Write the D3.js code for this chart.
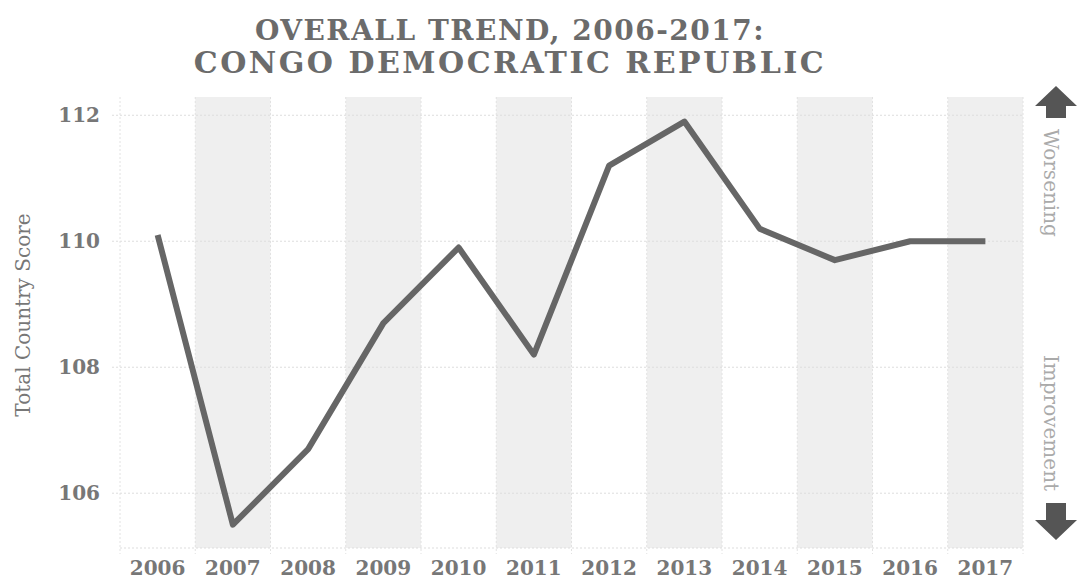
<!DOCTYPE html>
<html>
<head>
<meta charset="utf-8">
<script src="https://cdn.jsdelivr.net/npm/d3@7"></script>
<style>
  body { margin: 0; background: #fff; }
  text { font-family: "DejaVu Serif", serif; }
</style>
</head>
<body>
<div id="chart"></div>
<script>
// data
const years = ["2006","2007","2008","2009","2010","2011","2012","2013","2014","2015","2016","2017"];
const scores = [110.1, 105.5, 106.7, 108.7, 109.9, 108.2, 111.2, 111.9, 110.2, 109.7, 110.0, 110.0];
const yTicks = [106, 108, 110, 112];
const titleLines = ["OVERALL TREND, 2006-2017:", "CONGO DEMOCRATIC REPUBLIC"];

var margin = { top: 97, right: 54, bottom: 32, left: 120 },
    width = 1077 - margin.left - margin.right,
    height = 580 - margin.top - margin.bottom;

const svg = d3.select("#chart")
  .append("svg")
    .attr("width", 1077)
    .attr("height", 580);

const g = svg.append("g")
    .attr("transform", `translate(${margin.left}, ${margin.top})`);

// title (second line is set a bit larger, like the original)
svg.selectAll(".title")
  .data(titleLines)
  .join("text")
    .attr("x", 510)
    .attr("y", (d, i) => i === 0 ? 40 : 73)
    .attr("text-anchor", "middle")
    .style("font-weight", "bold")
    .style("font-size", (d, i) => i === 0 ? "28px" : "30px")
    .style("letter-spacing", (d, i) => i === 0 ? "1.5px" : "2.5px")
    .style("fill", "#6b6b6b")
    .text(d => d);

const x = d3.scaleBand()
  .domain(years)
  .range([0, width]);

const y = d3.scaleLinear()
  .domain([105.13, 112.29])
  .range([height, 0]);

// shaded bands on odd years
g.selectAll(".band")
  .data(years.filter((d, i) => i % 2 === 1))
  .join("rect")
    .attr("x", d => x(d))
    .attr("y", 0)
    .attr("width", x.bandwidth())
    .attr("height", height)
    .style("fill", "#efefef");

// horizontal grid
g.selectAll(".hgrid")
  .data(yTicks)
  .join("line")
    .attr("x1", -8)
    .attr("x2", width)
    .attr("y1", d => y(d))
    .attr("y2", d => y(d))
    .style("stroke", "#ddd")
    .style("stroke-dasharray", "2,2");

// vertical grid on band edges
g.selectAll(".vgrid")
  .data(years.concat(["end"]))
  .join("line")
    .attr("x1", (d, i) => i * x.bandwidth())
    .attr("x2", (d, i) => i * x.bandwidth())
    .attr("y1", 0)
    .attr("y2", height + 6)
    .style("stroke", "#e2e2e2")
    .style("stroke-dasharray", "2,2");

// bottom axis line
g.append("line")
  .attr("x1", 0).attr("x2", width)
  .attr("y1", height).attr("y2", height)
  .style("stroke", "#ddd")
  .style("stroke-dasharray", "2,2");

// axis labels
g.selectAll(".ytick")
  .data(yTicks)
  .join("text")
    .attr("x", -20)
    .attr("y", d => y(d))
    .attr("dy", "0.35em")
    .attr("text-anchor", "end")
    .style("font-size", "20px")
    .style("font-weight", "bold")
    .style("fill", "#777")
    .text(d => d);

g.selectAll(".xtick")
  .data(years)
  .join("text")
    .attr("x", d => x(d) + x.bandwidth() / 2)
    .attr("y", height + 27)
    .attr("text-anchor", "middle")
    .style("font-size", "20px")
    .style("font-weight", "bold")
    .style("fill", "#777")
    .text(d => d);

svg.append("text")
  .attr("transform", "translate(30, 315) rotate(-90)")
  .attr("text-anchor", "middle")
  .style("font-size", "20px")
  .style("fill", "#777")
  .text("Total Country Score");

// the trend line
g.append("path")
  .datum(scores)
  .attr("d", d3.line()
    .x((d, i) => x(years[i]) + x.bandwidth() / 2)
    .y(d => y(d)))
  .style("fill", "none")
  .style("stroke", "#666")
  .style("stroke-width", 6)
  .style("stroke-linejoin", "round");

// right side labels and arrows
svg.append("text")
  .attr("transform", "translate(1044, 183) rotate(90)")
  .attr("text-anchor", "middle")
  .style("font-size", "20px")
  .style("fill", "#aaa")
  .text("Worsening");

svg.append("text")
  .attr("transform", "translate(1044, 423) rotate(90)")
  .attr("text-anchor", "middle")
  .style("font-size", "20px")
  .style("fill", "#aaa")
  .text("Improvement");

svg.append("path")
  .attr("d", "M1056,86 L1077,106 L1066,106 L1066,118 L1046,118 L1046,106 L1035,106 Z")
  .style("fill", "#555");

svg.append("path")
  .attr("d", "M1046,503 L1066,503 L1066,520 L1077,520 L1056,540 L1035,520 L1046,520 Z")
  .style("fill", "#555");
</script>
</body>
</html>
